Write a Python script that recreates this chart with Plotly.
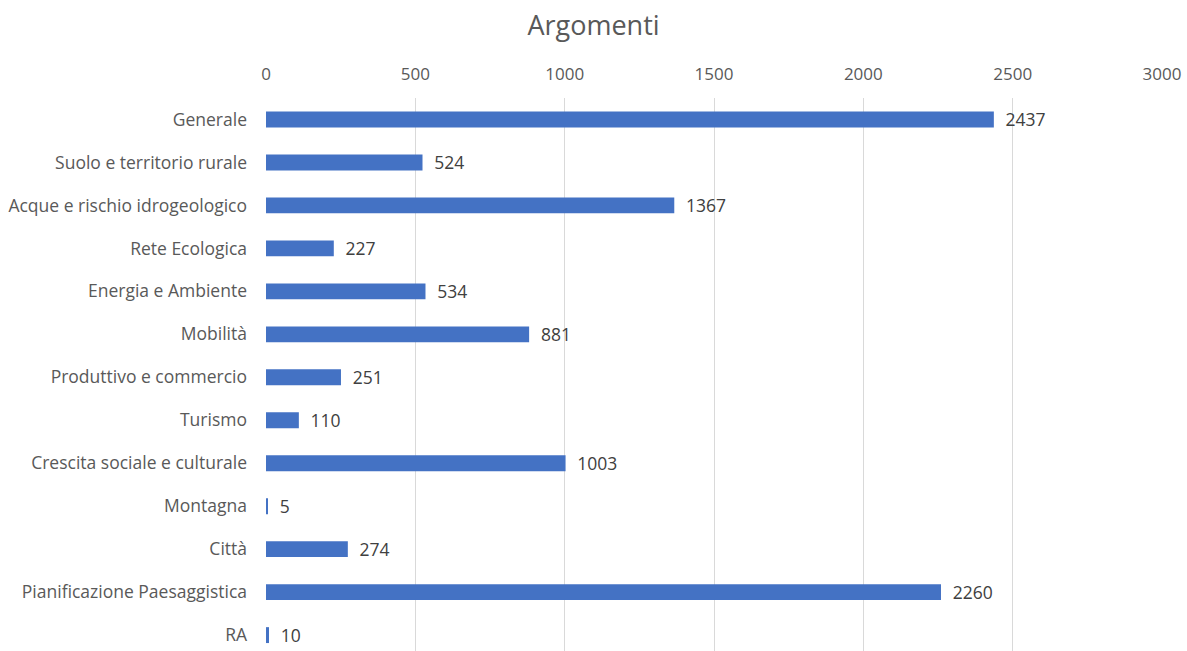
import plotly.graph_objects as go

categories = ["Generale", "Suolo e territorio rurale", "Acque e rischio idrogeologico",
              "Rete Ecologica", "Energia e Ambiente", "Mobilità", "Produttivo e commercio",
              "Turismo", "Crescita sociale e culturale", "Montagna", "Città",
              "Pianificazione Paesaggistica", "RA"]
values = [2437, 524, 1367, 227, 534, 881, 251, 110, 1003, 5, 274, 2260, 10]
x_ticks = [0, 500, 1000, 1500, 2000, 2500, 3000]

font_family = "Open Sans, sans-serif"
gray = "#595959"

fig = go.Figure(go.Bar(
    x=values, y=categories, orientation="h",
    marker=dict(color="#4472C4", line=dict(width=0)),
    text=["\u2002" + str(v) for v in values],
    textposition="outside", cliponaxis=False, constraintext="none",
    textfont=dict(family=font_family, size=17.5, color="#404040"),
    width=0.37,
))

fig.update_layout(
    width=1187, height=651,
    margin=dict(l=266, r=25, t=98, b=0),
    paper_bgcolor="white", plot_bgcolor="white",
    title=dict(text="Argomenti", x=0.5, xanchor="center", y=0.975, yanchor="top",
               font=dict(family=font_family, size=27, color=gray)),
    showlegend=False,
    xaxis=dict(side="top", range=[0, 3000], tickvals=x_ticks,
               ticktext=[str(t) for t in x_ticks],
               showgrid=True, gridcolor="#D9D9D9", gridwidth=1,
               zeroline=False, showline=False, ticks="", ticklabelstandoff=14,
               tickfont=dict(family=font_family, size=17, color=gray)),
    yaxis=dict(type="category", categoryorder="array", categoryarray=categories,
               range=[12.37, -0.5], showgrid=False, zeroline=False, showline=False,
               ticks="", ticklabelstandoff=18,
               tickfont=dict(family=font_family, size=17.5, color=gray)),
)

fig.write_html("out.html")
